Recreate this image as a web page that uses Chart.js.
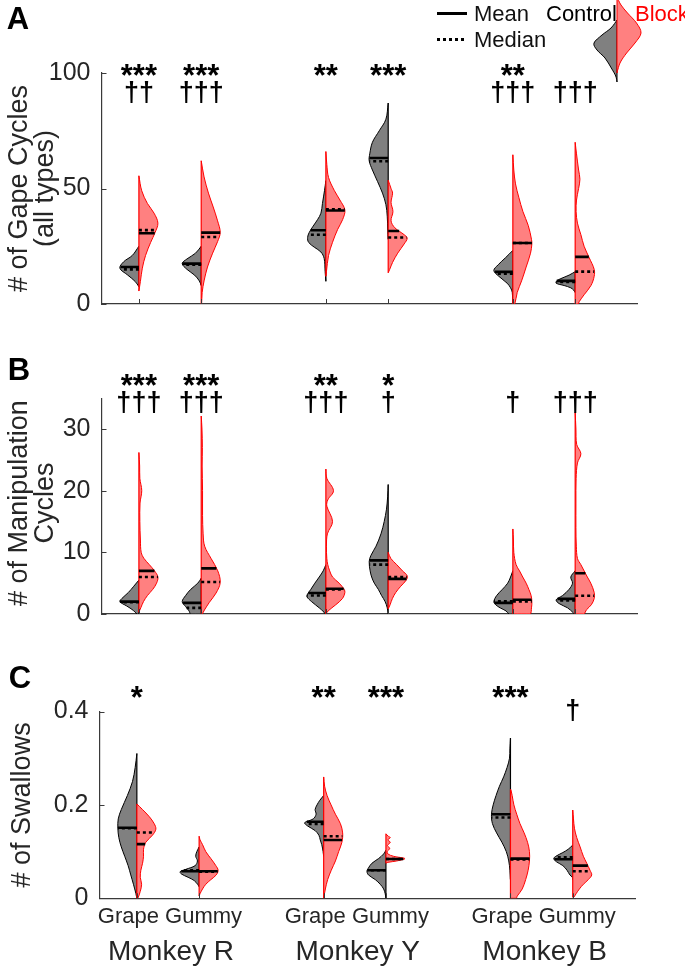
<!DOCTYPE html>
<html>
<head>
<meta charset="utf-8">
<script src="https://cdn.jsdelivr.net/npm/chart.js@4.4.1/dist/chart.umd.min.js"></script>
<style>
html,body{margin:0;padding:0;background:#fff;}
#wrap{position:relative;width:685px;height:967px;overflow:hidden;background:#fff;}
canvas{position:absolute;left:0;}
</style>
</head>
<body>
<div id="wrap">
<canvas id="cA" width="685" height="330" style="top:0px"></canvas>
<canvas id="cB" width="685" height="310" style="top:330px"></canvas>
<canvas id="cC" width="685" height="327" style="top:640px"></canvas>
</div>
<script>
// ---------------- DATA ----------------
const positions = [1, 2, 4, 5, 7, 8];
const foods = ['Grape', 'Gummy'];
const monkeys = ['Monkey R', 'Monkey Y', 'Monkey B'];
const groups = ['Control', 'Block'];
const statNames = ['Mean', 'Median'];

const gapeTicks = [0, 50, 100];
const manipTicks = [0, 10, 20, 30];
const swallowTicks = [0, 0.2, 0.4];

// Panel A: # of gape cycles (shape = [value, relative half-width] from top to bottom)
const gapeCtrlMean = [16, 17.5, 31.9, 63.2, 13.9, 10];
const gapeCtrlMedian = [15, 17, 30, 61.8, 13.1, 9.5];
const gapeBlockMean = [30.6, 30.9, 40.5, 31.6, 26.4, 20.4];
const gapeBlockMedian = [32, 29, 41, 28.8, 26.4, 14];
const gapeCtrlShape = [
  [[25,0],[21,0.35],[18.3,0.8],[15.5,1],[12.6,0.6],[9.8,0.2],[7.5,0]],
  [[25,0],[22,0.3],[19.5,0.75],[17.5,1],[15,0.75],[12.5,0.35],[10,0.1],[8,0]],
  [[53.4,0],[49.2,0.07],[43.5,0.18],[39.3,0.26],[36.5,0.44],[33.7,0.67],[30.9,0.88],[28.8,0.96],[26.7,0.91],[24.6,0.61],[22.5,0.26],[19.7,0.09],[14.1,0.04],[9.8,0]],
  [[87,0],[80,0.12],[75,0.47],[70,0.83],[65,0.97],[62,1],[58,0.83],[53,0.56],[48,0.3],[43,0.12],[38,0.05],[32,0.02],[28,0]],
  [[23.2,0],[20,0.39],[17,0.77],[14.5,1],[12,0.74],[9,0.3],[7,0.12],[5,0.03],[0,0]],
  [[14,0],[12.5,0.32],[11,0.75],[10,0.97],[9,1],[8,0.58],[7,0.23],[6,0.08],[5,0]]
];
const gapeBlockShape = [
  [[55.5,0],[49,0.15],[43.5,0.45],[39.3,0.8],[35,1],[30.9,0.85],[26.7,0.62],[21,0.35],[15.5,0.18],[9.8,0.08],[5.6,0]],
  [[62,0],[55,0.15],[48,0.38],[42,0.63],[36,0.86],[31,1],[27,0.86],[22,0.6],[16,0.33],[10,0.15],[5,0.05],[0,0.02]],
  [[66,0],[60.4,0.05],[54.8,0.14],[49.2,0.44],[45,0.74],[40.7,1],[36.5,0.88],[32.3,0.62],[26.7,0.35],[21,0.14],[14,0.03],[12,0]],
  [[53.6,0],[50,0.15],[48,0.23],[44,0.15],[40,0.25],[36,0.15],[33,0.35],[30,0.84],[28.5,1],[26,0.84],[22,0.5],[18,0.23],[15,0.08],[13.5,0]],
  [[64.6,0],[58,0.05],[52,0.14],[46,0.32],[40,0.53],[34,0.81],[28,0.98],[26,1],[22,0.93],[16,0.7],[10,0.46],[5,0.23],[0,0.1]],
  [[70,0],[65,0.07],[58,0.18],[54,0.25],[50,0.18],[45,0.07],[40,0.05],[35,0.12],[30,0.3],[25,0.47],[20,0.74],[15,1],[12,1],[8,0.83],[4,0.47],[1,0.21],[0,0.15]]
];
const gapeStars = ['***', '***', '**', '***', '**', ''];
const gapeDaggers = ['\u2020\u2020', '\u2020\u2020\u2020', '', '', '\u2020\u2020\u2020', '\u2020\u2020\u2020'];

// Panel B: # of manipulation cycles
const manipCtrlMean = [2.0, 1.8, 3.4, 8.7, 1.8, 2.45];
const manipCtrlMedian = [1.9, 1.0, 3.0, 8.0, 2.05, 2.2];
const manipBlockMean = [7.0, 7.4, 4.1, 5.7, 2.3, 6.6];
const manipBlockMedian = [6.0, 5.2, 4.0, 6.0, 2.05, 2.95];
const manipCtrlShape = [
  [[5.5,0],[4.5,0.27],[3.5,0.55],[2.5,0.9],[2,1],[1.3,0.64],[0.6,0.3],[0,0.1]],
  [[5.8,0],[5,0.18],[4,0.55],[3,0.82],[2,1],[1.2,0.82],[0.5,0.64],[0,0.55]],
  [[8,0],[7,0.14],[6,0.35],[5,0.58],[4,0.79],[3.2,0.97],[2.8,1],[2,0.75],[1,0.35],[0.3,0.1],[0,0.03]],
  [[21,0],[19,0.03],[17,0.09],[15,0.21],[13,0.38],[11,0.64],[9.5,0.91],[8.5,1],[7,0.95],[6,0.87],[5,0.73],[4,0.52],[3,0.35],[2,0.16],[1,0.05],[0,0]],
  [[7,0],[6,0.12],[5,0.27],[4,0.55],[3,0.85],[2,1],[1.5,0.9],[1,0.67],[0.5,0.36],[0,0.2]],
  [[7,0],[6,0.23],[5,0.14],[4,0.32],[3,0.66],[2.3,1],[1.7,0.85],[1,0.4],[0.2,0.1],[0,0.05]]
];
const manipBlockShape = [
  [[26.2,0],[24,0.04],[22,0.05],[20,0.15],[18,0.06],[15,0.05],[12,0.08],[10,0.12],[9,0.27],[8,0.55],[7,0.82],[6,1],[5,0.93],[4,0.73],[3,0.45],[2,0.24],[1,0.1],[0.3,0]],
  [[32.1,0],[30,0.04],[27,0.06],[24,0.05],[20,0.07],[16,0.07],[13,0.1],[11,0.18],[9,0.52],[7,0.87],[5.1,1],[3.4,0.78],[1.9,0.43],[0.65,0.17],[0,0.05]],
  [[23.5,0],[22,0.05],[20,0.4],[18.5,0.1],[17.5,0.05],[15,0.35],[13,0.08],[11,0.03],[9,0.05],[8,0.1],[7,0.2],[6,0.35],[5,0.7],[4,0.96],[3.5,1],[2.5,0.87],[1.5,0.52],[0.5,0.12],[0,0]],
  [[10,0],[9,0.14],[8,0.45],[7,0.75],[6.2,1],[5.5,0.95],[4.5,0.66],[3.5,0.4],[2.5,0.22],[1.5,0.1],[0.8,0]],
  [[13.8,0],[12,0.03],[10,0.05],[8,0.17],[7,0.35],[6,0.52],[5,0.7],[4,0.84],[3,0.96],[2,1],[1,0.98],[0,0.9]],
  [[32.7,0],[30,0.04],[27.5,0.08],[26,0.3],[24.5,0.12],[22,0.05],[18,0.04],[14,0.04],[11,0.06],[9,0.12],[8,0.3],[7,0.47],[6,0.64],[5,0.82],[3.5,1],[2.5,1],[1.5,0.85],[0.7,0.6],[0,0.45]]
];
const manipStars = ['***', '***', '**', '*', '', ''];
const manipDaggers = ['\u2020\u2020\u2020', '\u2020\u2020\u2020', '\u2020\u2020\u2020', '\u2020', '\u2020', '\u2020\u2020\u2020'];

// Panel C: # of swallows
const swallowCtrlMean = [0.151, 0.058, 0.164, 0.06, 0.18, 0.0835];
const swallowCtrlMedian = [0.15, 0.06, 0.159, 0.06, 0.173, 0.088];
const swallowBlockMean = [0.116, 0.058, 0.125, 0.084, 0.085, 0.07];
const swallowBlockMedian = [0.141, 0.057, 0.133, 0.084, 0.083, 0.058];
const swallowCtrlShape = [
  [[0.31,0],[0.28,0.09],[0.25,0.23],[0.22,0.5],[0.19,0.82],[0.17,0.98],[0.15,1],[0.13,0.95],[0.11,0.82],[0.09,0.64],[0.07,0.46],[0.05,0.32],[0.03,0.18],[0.01,0.05],[0,0]],
  [[0.11,0],[0.1,0.12],[0.09,0.18],[0.08,0.09],[0.07,0.21],[0.062,0.7],[0.057,1],[0.052,0.93],[0.045,0.58],[0.038,0.26],[0.03,0.08],[0.025,0]],
  [[0.22,0],[0.21,0.2],[0.2,0.35],[0.19,0.45],[0.18,0.4],[0.17,0.55],[0.162,1],[0.155,0.85],[0.145,0.45],[0.135,0.25],[0.125,0.18],[0.115,0.1],[0.1,0.03],[0.09,0]],
  [[0.103,0],[0.095,0.12],[0.085,0.39],[0.075,0.74],[0.065,0.92],[0.058,1],[0.05,0.92],[0.04,0.56],[0.03,0.3],[0.02,0.12],[0.01,0.04],[0,0]],
  [[0.343,0],[0.32,0.03],[0.3,0.05],[0.28,0.18],[0.26,0.36],[0.24,0.58],[0.22,0.76],[0.2,0.91],[0.18,1],[0.16,0.95],[0.14,0.73],[0.12,0.45],[0.1,0.22],[0.08,0.09],[0.06,0.03],[0.04,0]],
  [[0.114,0],[0.105,0.24],[0.098,0.52],[0.09,0.89],[0.085,1],[0.078,0.85],[0.07,0.52],[0.06,0.3],[0.05,0.15],[0.045,0.02],[0.04,0]]
];
const swallowBlockShape = [
  [[0.202,0],[0.19,0.3],[0.175,0.65],[0.16,0.91],[0.148,1],[0.135,0.82],[0.12,0.47],[0.105,0.35],[0.09,0.35],[0.075,0.3],[0.06,0.21],[0.045,0.18],[0.03,0.25],[0.015,0.18],[0,0.05]],
  [[0.133,0],[0.125,0.05],[0.115,0.18],[0.1,0.35],[0.085,0.62],[0.07,0.88],[0.06,1],[0.05,0.9],[0.04,0.62],[0.03,0.35],[0.02,0.18],[0.01,0.05],[0.005,0]],
  [[0.26,0],[0.24,0.05],[0.22,0.18],[0.2,0.39],[0.18,0.62],[0.16,0.88],[0.14,1],[0.12,0.96],[0.1,0.79],[0.08,0.62],[0.06,0.4],[0.04,0.21],[0.02,0.09],[0.005,0.02],[0,0]],
  [[0.138,0],[0.133,0.12],[0.13,0.23],[0.125,0.1],[0.12,0.23],[0.113,0.08],[0.107,0.2],[0.1,0.07],[0.095,0.1],[0.09,0.4],[0.085,1],[0.08,0.57],[0.077,0.1],[0.075,0]],
  [[0.233,0.02],[0.22,0.09],[0.2,0.18],[0.18,0.33],[0.16,0.5],[0.14,0.72],[0.12,0.9],[0.1,1],[0.08,1],[0.06,0.93],[0.04,0.8],[0.02,0.62],[0.005,0.36],[0,0.3]],
  [[0.189,0],[0.17,0.04],[0.15,0.09],[0.13,0.21],[0.11,0.39],[0.09,0.56],[0.075,0.74],[0.06,0.91],[0.05,1],[0.04,0.82],[0.03,0.56],[0.02,0.35],[0.01,0.18],[0.002,0.05]]
];
const swallowStars = ['*', '', '**', '***', '***', ''];
const swallowDaggers = ['', '', '', '', '', '\u2020'];

// ---------------- STYLE ----------------
const FONT = "'Liberation Sans', Arial, Helvetica, sans-serif";
const INK = '#262626';
const AXIS = '#3a3a3a';
const GRAY_FILL = '#808080';
const RED_FILL = '#ff8080';
const RED = '#ff0000';
const HALF = 0.305; // max half-width of a violin in x units

function widthAt(shape, v) {
  for (let i = 0; i < shape.length - 1; i++) {
    const [v0, w0] = shape[i], [v1, w1] = shape[i + 1];
    if (v <= v0 && v >= v1) {
      const t = v0 === v1 ? 0 : (v0 - v) / (v0 - v1);
      return w0 + t * (w1 - w0);
    }
  }
  return 0;
}

function halfViolin(p, shape, side, fillColor, lineColor) {
  const pts = [];
  const first = shape[0], last = shape[shape.length - 1];
  if (first[1] !== 0) pts.push({x: p, y: first[0]});
  shape.forEach(([v, w]) => pts.push({x: p + side * w * HALF, y: v}));
  if (last[1] !== 0) pts.push({x: p, y: last[0]});
  return [
    {data: pts, fill: 'shape', backgroundColor: fillColor, borderColor: lineColor, borderWidth: 1, tension: 0.35},
    {data: [{x: p, y: first[0]}, {x: p, y: last[0]}], fill: false, borderColor: lineColor, borderWidth: 1.2, tension: 0}
  ];
}

function statLine(p, shape, v, side, dashed) {
  return {
    data: [{x: p, y: v}, {x: p + side * widthAt(shape, v) * HALF, y: v}],
    fill: false, borderColor: '#000', borderWidth: 2.6, tension: 0,
    borderDash: dashed ? [3, 3] : [], borderCapStyle: 'butt'
  };
}

function buildDatasets(cS, bS, cMean, cMed, bMean, bMed) {
  const ds = [];
  positions.forEach((p, i) => {
    ds.push(...halfViolin(p, cS[i], -1, GRAY_FILL, '#000'));
    ds.push(...halfViolin(p, bS[i], 1, RED_FILL, RED));
  });
  positions.forEach((p, i) => {
    ds.push(statLine(p, cS[i], cMean[i], -1, false));
    ds.push(statLine(p, cS[i], cMed[i], -1, true));
    ds.push(statLine(p, bS[i], bMean[i], 1, false));
    ds.push(statLine(p, bS[i], bMed[i], 1, true));
  });
  // Chart.js paints the last dataset first, so reverse to get the intended stacking
  return ds.reverse();
}

function drawMid(ctx, text, x, cy) {
  const m = ctx.measureText(text);
  ctx.textBaseline = 'alphabetic';
  ctx.fillText(text, x, cy + (m.actualBoundingBoxAscent - m.actualBoundingBoxDescent) / 2);
}

function smoothPath(ctx, pts) {
  ctx.moveTo(pts[0][0], pts[0][1]);
  for (let i = 0; i < pts.length - 1; i++) {
    const p0 = pts[Math.max(i - 1, 0)], p1 = pts[i], p2 = pts[i + 1], p3 = pts[Math.min(i + 2, pts.length - 1)];
    const t = 1 / 6;
    ctx.bezierCurveTo(p1[0] + (p2[0] - p0[0]) * t, p1[1] + (p2[1] - p0[1]) * t,
                      p2[0] - (p3[0] - p1[0]) * t, p2[1] - (p3[1] - p1[1]) * t, p2[0], p2[1]);
  }
}

function legendHalf(ctx, cx, shape, side, fillC, lineC) {
  const pts = shape.map(([y, w]) => [cx + side * w, y]);
  ctx.beginPath();
  smoothPath(ctx, pts);
  ctx.closePath();
  ctx.fillStyle = fillC; ctx.fill();
  ctx.strokeStyle = lineC; ctx.lineWidth = 1; ctx.stroke();
}

function drawLegend(chart, ctx) {
  ctx.font = `22px ${FONT}`;
  ctx.textAlign = 'left';
  ctx.textBaseline = 'alphabetic';
  ctx.fillStyle = '#111';
  ctx.fillText(statNames[0], 474, 21);
  ctx.fillText(statNames[1], 474, 47);
  ctx.strokeStyle = '#000'; ctx.lineWidth = 3;
  ctx.setLineDash([]);
  ctx.beginPath(); ctx.moveTo(437, 13.5); ctx.lineTo(467, 13.5); ctx.stroke();
  ctx.setLineDash([3, 3]);
  ctx.beginPath(); ctx.moveTo(437, 39.5); ctx.lineTo(467, 39.5); ctx.stroke();
  ctx.setLineDash([]);
  ctx.fillStyle = '#000';
  ctx.fillText(groups[0], 546, 21);
  ctx.fillStyle = RED;
  ctx.fillText(groups[1], 635, 21);
  const cx = 617;
  legendHalf(ctx, cx, [[20,0],[28,6],[35,15],[43,23],[50,20],[58,12],[68,5.7],[76,1.3],[82,0]], -1, GRAY_FILL, '#000');
  legendHalf(ctx, cx, [[-3,0],[5,4],[13,10.5],[23,19.5],[33,24],[43,18],[53,9.6],[62,3.5],[69,1],[73,0]], 1, RED_FILL, RED);
}

function drawCategories(chart, ctx) {
  const xs = chart.scales.x, a = chart.chartArea;
  ctx.fillStyle = INK;
  ctx.textAlign = 'center';
  ctx.textBaseline = 'alphabetic';
  monkeys.forEach((m, k) => {
    const mid = (xs.getPixelForValue(positions[2 * k]) + xs.getPixelForValue(positions[2 * k + 1])) / 2;
    ctx.font = `22px ${FONT}`;
    ctx.fillText(foods.join(' '), mid + 2, a.bottom + 25);
    ctx.font = `28px ${FONT}`;
    ctx.fillText(m, mid + 3, a.bottom + 62);
  });
}

function decor(cfg) {
  return {
    id: 'decor' + cfg.letter,
    afterDraw(chart) {
      const ctx = chart.ctx, xs = chart.scales.x, ys = chart.scales.y, a = chart.chartArea;
      ctx.save();
      // inward tick marks
      ctx.strokeStyle = AXIS; ctx.lineWidth = 1; ctx.setLineDash([]);
      cfg.ticks.forEach(v => {
        const y = Math.round(ys.getPixelForValue(v)) + 0.5;
        ctx.beginPath(); ctx.moveTo(a.left, y); ctx.lineTo(a.left + 5, y); ctx.stroke();
      });
      positions.forEach(p => {
        const x = Math.round(xs.getPixelForValue(p)) + 0.5;
        ctx.beginPath(); ctx.moveTo(x, a.bottom); ctx.lineTo(x, a.bottom - 5); ctx.stroke();
      });
      // panel letter
      ctx.fillStyle = '#000';
      ctx.textAlign = 'center';
      ctx.font = `bold 31px ${FONT}`;
      drawMid(ctx, cfg.letter, cfg.letterX, cfg.letterY);
      // y-axis title
      ctx.fillStyle = INK;
      ctx.font = `27px ${FONT}`;
      const cy = (a.top + a.bottom) / 2 + cfg.titleDy;
      cfg.titles.forEach((t, i) => {
        ctx.save();
        ctx.translate(cfg.titleX[i], cy);
        ctx.rotate(-Math.PI / 2);
        ctx.textAlign = 'center';
        ctx.textBaseline = 'middle';
        ctx.fillText(t, 0, 0);
        ctx.restore();
      });
      // significance marks
      ctx.fillStyle = '#000';
      ctx.textAlign = 'center';
      positions.forEach((p, i) => {
        const x = xs.getPixelForValue(p);
        if (cfg.stars[i]) { ctx.font = `bold 31px ${FONT}`; drawMid(ctx, cfg.stars[i], x, cfg.starsY); }
        if (cfg.daggers[i]) { ctx.font = `bold 27px ${FONT}`; drawMid(ctx, cfg.daggers[i], x, cfg.daggersY); }
      });
      if (cfg.extra) cfg.extra(chart, ctx);
      ctx.restore();
    }
  };
}

function makePanel(cfg) {
  return new Chart(document.getElementById(cfg.id), {
    type: 'line',
    data: {datasets: cfg.datasets},
    options: {
      responsive: false,
      animation: false,
      devicePixelRatio: 1,
      events: [],
      layout: {autoPadding: false, padding: {top: cfg.top, right: cfg.right, left: 0, bottom: 0}},
      plugins: {legend: {display: false}, tooltip: {enabled: false}},
      elements: {point: {radius: 0, hoverRadius: 0}},
      scales: {
        x: {
          type: 'linear', min: 0.4, max: 9.0,
          grid: {display: false, drawTicks: false},
          ticks: {display: false},
          border: {display: true, color: AXIS, width: 1.2},
          afterFit: s => { s.height = cfg.xh; }
        },
        y: {
          type: 'linear', min: cfg.ymin, max: cfg.ymax,
          grid: {display: false, drawTicks: false},
          border: {display: true, color: AXIS, width: 1.2},
          afterBuildTicks: s => { s.ticks = cfg.ticks.map(v => ({value: v})); },
          ticks: {font: {family: FONT, size: 25}, color: INK, padding: 11, callback: v => String(v)},
          afterFit: s => { s.width = cfg.yw; }
        }
      }
    },
    plugins: [decor(cfg)]
  });
}

makePanel({
  id: 'cA', top: 73, right: 47.5, yw: 101.5, xh: 20, ymin: 0, ymax: 100, ticks: gapeTicks,
  datasets: buildDatasets(gapeCtrlShape, gapeBlockShape, gapeCtrlMean, gapeCtrlMedian, gapeBlockMean, gapeBlockMedian),
  letter: 'A', letterX: 18, letterY: 18,
  titles: ['# of Gape Cycles', '(all types)'], titleX: [20, 46], titleDy: 0,
  stars: gapeStars, daggers: gapeDaggers, starsY: 70, daggersY: 92,
  extra: drawLegend
});
makePanel({
  id: 'cB', top: 68.2, right: 47.5, yw: 101.5, xh: 8, ymin: 0, ymax: 35, ticks: manipTicks,
  datasets: buildDatasets(manipCtrlShape, manipBlockShape, manipCtrlMean, manipCtrlMedian, manipBlockMean, manipBlockMedian),
  letter: 'B', letterX: 19, letterY: 39,
  titles: ['# of Manipulation', 'Cycles'], titleX: [20, 46], titleDy: -3,
  stars: manipStars, daggers: manipDaggers, starsY: 50, daggersY: 72.5
});
makePanel({
  id: 'cC', top: 71.5, right: 50, yw: 99.5, xh: 68.7, ymin: 0, ymax: 0.4, ticks: swallowTicks,
  datasets: buildDatasets(swallowCtrlShape, swallowBlockShape, swallowCtrlMean, swallowCtrlMedian, swallowBlockMean, swallowBlockMedian),
  letter: 'C', letterX: 20, letterY: 37,
  titles: ['# of Swallows'], titleX: [23], titleDy: 0,
  stars: swallowStars, daggers: swallowDaggers, starsY: 52, daggersY: 70,
  extra: drawCategories
});
</script>
</body>
</html>
